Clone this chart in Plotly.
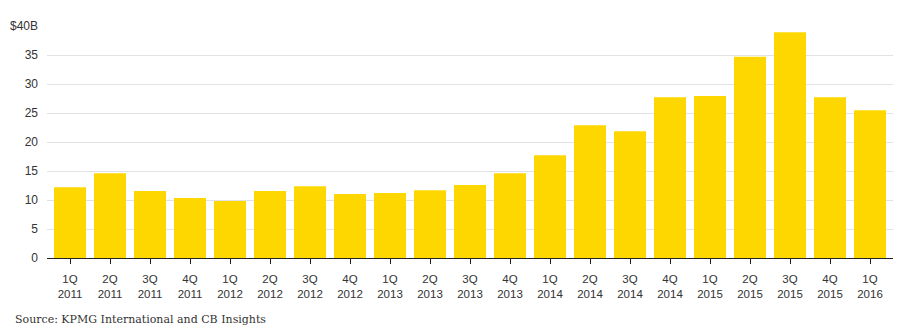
import plotly.graph_objects as go

quarters = ["1Q", "2Q", "3Q", "4Q", "1Q", "2Q", "3Q", "4Q", "1Q", "2Q", "3Q", "4Q",
            "1Q", "2Q", "3Q", "4Q", "1Q", "2Q", "3Q", "4Q", "1Q"]
years = ["2011"] * 4 + ["2012"] * 4 + ["2013"] * 4 + ["2014"] * 4 + ["2015"] * 4 + ["2016"]
funding = [12.2, 14.65, 11.55, 10.35, 9.85, 11.55, 12.4, 11.05, 11.2, 11.7, 12.6, 14.65,
           17.75, 22.9, 21.9, 27.75, 27.95, 34.75, 38.95, 27.75, 25.5]
y_ticks = [0, 5, 10, 15, 20, 25, 30, 35, 40]
y_ticktext = ["0", "5", "10", "15", "20", "25", "30", "35", "$40B"]

labels = [f"{q}<br>{y}" for q, y in zip(quarters, years)]
x = list(range(len(labels)))

fig = go.Figure(go.Bar(
    x=x, y=funding,
    marker=dict(color="#FFD700", line=dict(width=0)),
    hoverinfo="skip",
))

fig.update_layout(
    width=899, height=330,
    margin=dict(l=47, r=6, t=26, b=72),
    plot_bgcolor="white", paper_bgcolor="white",
    bargap=0.2,
    showlegend=False,
    font=dict(family="Liberation Sans, Arial, sans-serif", size=12, color="#333"),
    xaxis=dict(
        tickmode="array", tickvals=x, ticktext=labels,
        range=[-0.575, 20.575],
        showline=True, linecolor="#222", linewidth=1,
        ticks="outside", ticklen=5, tickcolor="#222", tickwidth=1,
        ticklabelstandoff=5,
        showgrid=False, zeroline=False,
        tickfont=dict(size=11.5, color="#333"),
    ),
    yaxis=dict(
        tickmode="array", tickvals=y_ticks, ticktext=y_ticktext,
        range=[0, 40.05],
        showgrid=True, gridcolor="#e2e2e6", gridwidth=1,
        zeroline=False, showline=False, ticks="",
        ticklabelstandoff=8,
        tickfont=dict(size=12, color="#333"),
    ),
    annotations=[dict(
        text="Source: KPMG International and CB Insights",
        xref="paper", yref="paper", x=-47/846, y=-72/232,
        xanchor="left", yanchor="bottom", yshift=2, xshift=13,
        showarrow=False,
        font=dict(family="DejaVu Serif, Georgia, serif", size=11, color="#333"),
    )],
)

fig.write_html("out.html")
